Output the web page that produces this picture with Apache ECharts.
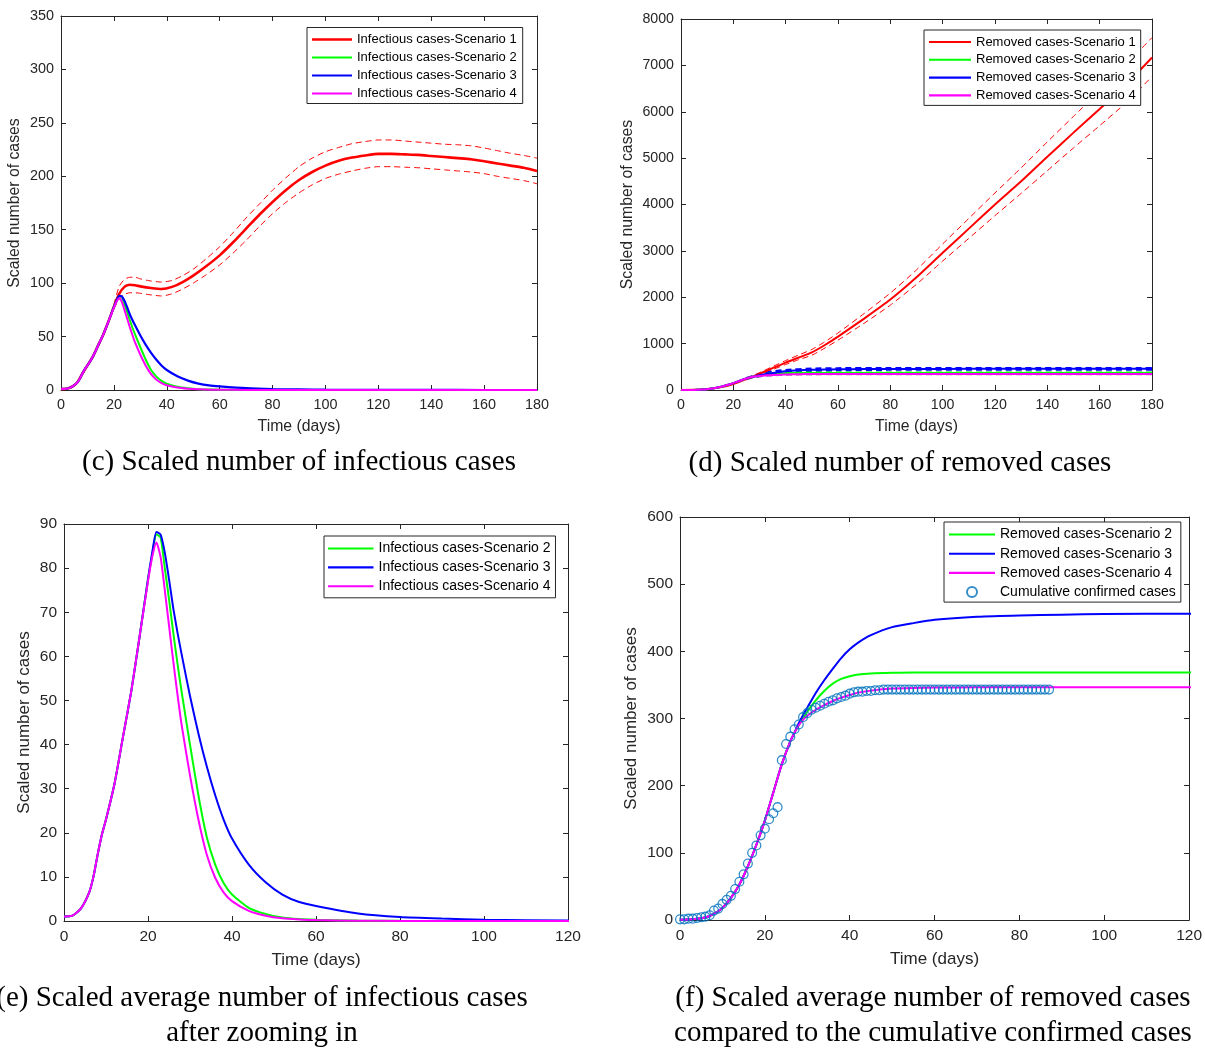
<!DOCTYPE html>
<html><head><meta charset="utf-8">
<script src="https://cdn.jsdelivr.net/npm/echarts@6/dist/echarts.min.js"></script>
<style>html,body{margin:0;padding:0;background:#fff}#c{width:1205px;height:1048px}</style>
</head><body><div id="c"></div>
<script>
// ---------- DATA ----------
// Panels (c)/(e): infectious cases, scenarios 2-4 (average)
const dayInf = [0,2,4,6,7,8,9,10,12,14,16,18,20,21,22,23,24,25,26,27,28,30,32,34,36,38,40,44,48,52,56,60,70,80,90,100,120,140,160,180];
const infS2 = [1,1.2,2.8,6.5,10,15,19.5,23,31,41.5,52,64.5,77.5,83,87.6,87,80,73,65.5,58.5,52,40,28.5,19,12.8,8.6,6,3,1.6,0.8,0.45,0.3,0.1,0.04,0.02,0.01,0,0,0,0];
const infS3 = [1,1.2,2.8,6.5,10,15,19.5,23,31,41.5,52,64.5,77.5,83.5,88.2,87.6,83.5,77.5,71,65.5,60.5,51,42.5,35,28.5,23,18.7,12.8,8.8,6,4.3,3.4,1.7,0.9,0.55,0.3,0.12,0.05,0.02,0.01];
const infS4 = [1,1.2,2.8,6.5,10,15,19.5,23,31,41.5,52,64.5,77,82.5,85.8,82.5,75,67,59,51.5,44.5,33,23,15,9.8,6.5,4.5,2.3,1.2,0.6,0.35,0.2,0.06,0.02,0.01,0,0,0,0,0];
// Panel (c): infectious cases, scenario 1 with dashed bounds
const dayS1 = [0,2,4,6,8,10,12,14,16,18,20,22,24,26,28,30,34,38,42,46,50,55,60,65,70,75,80,85,90,95,100,105,110,115,120,125,130,135,140,145,150,155,160,165,170,175,180];
const infS1 = [1,1.2,2.8,6.5,15,23,31,41.5,52,64.5,78,90,96.5,98.5,98,97,95.5,94.5,96.5,101,107,116,126,138,151,164,176,187,196.5,204,210,214.5,217.5,219.5,221,221,220.5,220,219,218,217,216,214,212,210,208,205];
const dayS1Band = [20,22,24,26,28,30,34,38,42,46,50,55,60,65,70,75,80,85,90,95,100,105,110,115,120,125,130,135,140,145,150,155,160,165,170,175,180];
const infS1Up = [80,97,103.5,105.5,105.5,104,102,101,102.5,107,113,123,134,147,161,174,187,198.5,209,217,223,227,230.5,232.5,234,234,233,232,231,230,229.5,228.5,226.5,224,221.5,219.5,217];
const infS1Lo = [76,85,89.5,91,91,90.5,89,88,90,94.5,100,108,117,128,140,153,165,175.5,184.5,192,198,202,205,207.5,209,209,208.5,208,207,206,205,204,202.5,200,198,196,193];
// Panels (d)/(f): removed cases, scenarios 2-4
const dayRem = [0,3,5,7,9,10,12,14,16,18,20,22,24,26,27,28,29,30,32,34,36,38,40,42,45,50,55,60,70,80,90,100,120,180];
const remS2 = [0.5,1,2.5,6,13,18,33,53,80,112,148,190,232,266,279,290,300,310,327,341,352,359,363,365.5,367,368,368.5,368.5,368.5,368.5,368.5,368.5,368.5,368.5];
const remS3 = [0.5,1,2.5,6,13,18,33,53,80,112,148,190,232,266,279,293,305,316,338,357,374,390,403,413,424,436,442,447,451.5,453.5,454.5,455.5,456,456];
const remS4 = [0.5,1,2.5,6,13,18,33,53,80,112,148,190,232,266,279,290,298,304,313,320,326,331,335,338.5,341.5,344.5,345.5,346,346.5,346.5,346.5,346.5,346.5,346.5];
// Panel (d): removed cases, scenario 1 with dashed bounds
const dayRem1 = [0,5,10,15,20,25,30,35,40,45,50,55,60,70,80,90,100,110,120,130,140,150,160,170,180];
const remS1 = [0,3,20,58,130,235,350,470,590,700,810,970,1150,1540,1950,2430,2960,3480,4000,4500,5030,5550,6060,6580,7170];
const dayRem1Band = [25,30,35,40,45,50,55,60,70,80,90,100,110,120,130,140,150,160,170,180];
const remS1Up = [250,375,505,635,755,875,1040,1230,1650,2090,2590,3150,3700,4250,4790,5350,5900,6450,7010,7600];
const remS1Lo = [222,328,440,550,655,750,905,1075,1440,1830,2280,2780,3270,3760,4240,4730,5220,5700,6190,6760];
// Panel (d): dashed bounds for scenarios 2-4
const dayRemBand = [25,30,35,40,50,60,80,120,180];
const remS2Up = [255,325,362,372,377,378,378,378,378];
const remS2Lo = [245,300,335,350,358,359,359,359,359];
const remS3Up = [255,340,395,428,458,466,470,471,471];
const remS3Lo = [245,300,345,382,415,430,440,441,441];
const remS4Up = [255,318,338,346,352,353,353,353,353];
const remS4Lo = [245,296,315,326,336,338,338,338,338];
// Panel (f): cumulative confirmed cases, one value per day starting at day 0
const confirmed = [1,1,2,2,3,4,5,7,14,17,24,30,36,46,57,68,84,100,111,126,136,150,159,168,238,262,273,284,291,302,308,313,316,319,322,325,327,330,332,334,337,339,340,340,341,341,342,342,343,343,343,343,343,343,343,343,343,343,343,343,343,343,343,343,343,343,343,343,343,343,343,343,343,343,343,343,343,343,343,343,343,343,343,343,343,343,343,343];

// ---------- CHART ----------
const SANS = '"Liberation Sans", Arial, sans-serif';
const SERIF = '"Liberation Serif", "Times New Roman", serif';
const AX = '#262626';
const RED = '#ff0000', GRN = '#00ff00', BLU = '#0000ff', MAG = '#ff00ff', CONF = '#0072bd';
const pairs = (xs, ys) => xs.map((x, i) => [x, ys[i]]);

const grids = [
  {left: 61, top: 16, width: 476, height: 374},
  {left: 681, top: 19, width: 471, height: 371},
  {left: 64, top: 524, width: 504, height: 397},
  {left: 680, top: 517, width: 511, height: 403}
];
const xMax = [180, 180, 120, 120], yMax = [350, 8000, 90, 600], yInt = [50, 1000, 10, 100];
const tickFont = [14.4, 14.2, 15.5, 15.5], nameFont = [15.8, 15.8, 17, 17];
const yNameGap = [38, 45, 31, 40], xNameGap = [28.5, 28.5, 30.5, 31];

const xAxis = [], yAxis = [];
grids.forEach((g, i) => {
  const line = {show: true, onZero: false, lineStyle: {color: AX, width: 1}};
  const tick = {show: true, inside: true, length: 5, lineStyle: {color: AX, width: 1}};
  xAxis.push({type: 'value', gridIndex: i, min: 0, max: xMax[i], interval: 20, position: 'bottom',
    name: 'Time (days)', nameLocation: 'middle', nameGap: xNameGap[i],
    nameTextStyle: {fontFamily: SANS, fontSize: nameFont[i], color: AX},
    axisLine: line, axisTick: tick, splitLine: {show: false},
    axisLabel: {fontFamily: SANS, fontSize: tickFont[i], color: AX, margin: 8, formatter: v => String(v)}});
  xAxis.push({type: 'value', gridIndex: i, min: 0, max: xMax[i], interval: 20, position: 'top',
    axisLine: line, axisTick: tick, splitLine: {show: false}, axisLabel: {show: false}});
  yAxis.push({type: 'value', gridIndex: i, min: 0, max: yMax[i], interval: yInt[i], position: 'left',
    name: 'Scaled number of cases', nameLocation: 'middle', nameGap: yNameGap[i],
    nameTextStyle: {fontFamily: SANS, fontSize: nameFont[i], color: AX},
    axisLine: line, axisTick: tick, splitLine: {show: false},
    axisLabel: {fontFamily: SANS, fontSize: tickFont[i], color: AX, margin: 7, formatter: v => String(v)}});
  yAxis.push({type: 'value', gridIndex: i, min: 0, max: yMax[i], interval: yInt[i], position: 'right',
    axisLine: line, axisTick: tick, splitLine: {show: false}, axisLabel: {show: false}});
});

function ln(name, p, xs, ys, color, width, dashed, z) {
  return {type: 'line', name, xAxisIndex: 2 * p, yAxisIndex: 2 * p, data: pairs(xs, ys),
    symbol: 'none', smooth: 0.2, clip: true, silent: true, z: z || 2,
    lineStyle: {color, width, type: dashed ? [6, 4] : 'solid'}, itemStyle: {color},
    emphasis: {disabled: true}};
}

const series = [
  // (c)
  ln('c-s1-up', 0, dayS1Band, infS1Up, RED, 1, true),
  ln('c-s1-lo', 0, dayS1Band, infS1Lo, RED, 1, true),
  ln('Infectious cases-Scenario 1', 0, dayS1, infS1, RED, 2.6),
  ln('Infectious cases-Scenario 2', 0, dayInf, infS2, GRN, 2),
  ln('Infectious cases-Scenario 3', 0, dayInf, infS3, BLU, 2.2),
  ln('Infectious cases-Scenario 4', 0, dayInf, infS4, MAG, 2),
  // (d)
  ln('d-s1-up', 1, dayRem1Band, remS1Up, RED, 1, true),
  ln('d-s1-lo', 1, dayRem1Band, remS1Lo, RED, 1, true),
  ln('d-s3-up', 1, dayRemBand, remS3Up, BLU, 2.5, true),
  ln('d-s3-lo', 1, dayRemBand, remS3Lo, BLU, 2.5, true),
  ln('d-s2-up', 1, dayRemBand, remS2Up, GRN, 2, true),
  ln('d-s2-lo', 1, dayRemBand, remS2Lo, GRN, 2, true),
  ln('d-s4-up', 1, dayRemBand, remS4Up, '#b070b0', 2, true),
  ln('d-s4-lo', 1, dayRemBand, remS4Lo, '#b070b0', 2, true),
  ln('Removed cases-Scenario 1', 1, dayRem1, remS1, RED, 2),
  ln('Removed cases-Scenario 2', 1, dayRem, remS2, GRN, 2),
  ln('Removed cases-Scenario 3', 1, dayRem, remS3, BLU, 2),
  ln('Removed cases-Scenario 4', 1, dayRem, remS4, MAG, 2),
  // (e)
  ln('Infectious cases-Scenario 2', 2, dayInf, infS2, GRN, 2),
  ln('Infectious cases-Scenario 3', 2, dayInf, infS3, BLU, 2),
  ln('Infectious cases-Scenario 4', 2, dayInf, infS4, MAG, 2),
  // (f)
  ln('Removed cases-Scenario 2', 3, dayRem, remS2, GRN, 2),
  ln('Removed cases-Scenario 3', 3, dayRem, remS3, BLU, 2),
  ln('Removed cases-Scenario 4', 3, dayRem, remS4, MAG, 2),
  {type: 'scatter', name: 'Cumulative confirmed cases', xAxisIndex: 6, yAxisIndex: 6,
    data: confirmed.map((v, day) => [day, v]), symbol: 'circle', symbolSize: 8.8, silent: true, z: 3,
    itemStyle: {color: 'rgba(0,0,0,0)', borderColor: CONF, borderWidth: 1.3}, emphasis: {disabled: true}}
];

const bar = (w, h) => `path://M0,0H${w}V${h}H0Z`;
function legend(names, left, top, pad, iw, ih, gap, fs, lh) {
  return {data: names.map(n => n.startsWith('Cumulative') ? {name: n} :
      {name: n, icon: bar(iw, n.endsWith('Scenario 1') && n.startsWith('Infectious') ? 2.6 : 2.1)}),
    left, top, orient: 'vertical', padding: pad, itemWidth: iw, itemHeight: ih,
    itemGap: gap, borderColor: AX, borderWidth: 1, backgroundColor: '#fff', selectedMode: false,
    textStyle: {fontFamily: SANS, fontSize: fs, color: '#000', lineHeight: lh}};
}

const option = {
  animation: false,
  backgroundColor: '#fff',
  grid: grids,
  xAxis, yAxis, series,
  legend: [
    legend(['Infectious cases-Scenario 1', 'Infectious cases-Scenario 2', 'Infectious cases-Scenario 3', 'Infectious cases-Scenario 4'],
      307, 27.5, [5, 6, 3, 5], 40, 14, 4, 13, 14),
    legend(['Removed cases-Scenario 1', 'Removed cases-Scenario 2', 'Removed cases-Scenario 3', 'Removed cases-Scenario 4'],
      924, 30, [5, 5, 3, 5], 42, 14, 3.8, 13, 14),
    legend(['Infectious cases-Scenario 2', 'Infectious cases-Scenario 3', 'Infectious cases-Scenario 4'],
      324, 536, [5, 5, 4, 4], 45.5, 14, 3.9, 14, 15),
    legend(['Removed cases-Scenario 2', 'Removed cases-Scenario 3', 'Removed cases-Scenario 4', 'Cumulative confirmed cases'],
      944, 522, [5, 5, 2.5, 5], 46, 10, 4.2, 14, 15)
  ],
  graphic: [
    ['(c) Scaled number of infectious cases', 299, 462],
    ['(d) Scaled number of removed cases', 900, 463],
    ['(e) Scaled average number of infectious cases', 262, 998],
    ['after zooming in', 262, 1033],
    ['(f) Scaled average number of removed cases', 933, 998.5],
    ['compared to the cumulative confirmed cases', 933, 1033]
  ].map(([t, x, y]) => ({type: 'text', x, y, silent: true,
    style: {text: t, font: '29px ' + SERIF, fill: '#000', align: 'center', verticalAlign: 'middle',
      textAlign: 'center', textVerticalAlign: 'middle'}}))
};

const chart = echarts.init(document.getElementById('c'), null, {renderer: 'canvas'});
chart.setOption(option);
</script>
</body></html>
